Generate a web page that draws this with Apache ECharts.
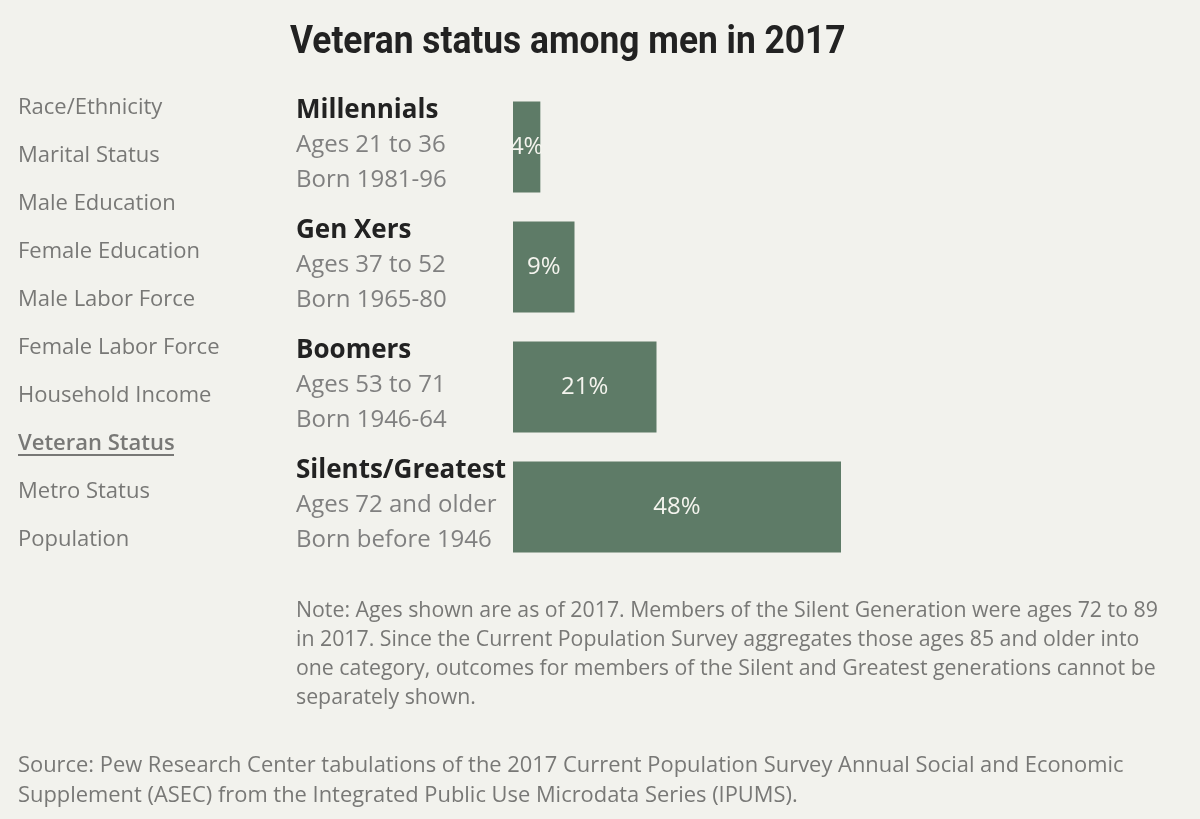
<!DOCTYPE html>
<html>
<head>
<meta charset="utf-8">
<script src="https://cdn.jsdelivr.net/npm/echarts@6/dist/echarts.min.js"></script>
<style>
  html, body { margin: 0; padding: 0; background: #f2f2ed; }
  #main { width: 1200px; height: 819px; }
</style>
</head>
<body>
<div id="main"></div>
<script>
// data
const generations = ['Millennials', 'Gen Xers', 'Boomers', 'Silents/Greatest'];
const ageRanges = ['Ages 21 to 36', 'Ages 37 to 52', 'Ages 53 to 71', 'Ages 72 and older'];
const birthRanges = ['Born 1981-96', 'Born 1965-80', 'Born 1946-64', 'Born before 1946'];
const veteranShares = [4, 9, 21, 48];
const menuItems = ['Race/Ethnicity', 'Marital Status', 'Male Education', 'Female Education',
	'Male Labor Force', 'Female Labor Force', 'Household Income', 'Veteran Status',
	'Metro Status', 'Population'];
const activeMenu = 'Veteran Status';

const noteText = 'Note: Ages shown are as of 2017. Members of the Silent Generation were ages 72 to 89\n' +
	'in 2017. Since the Current Population Survey aggregates those ages 85 and older into\n' +
	'one category, outcomes for members of the Silent and Greatest generations cannot be\n' +
	'separately shown.';
const sourceText = 'Source: Pew Research Center tabulations of the 2017 Current Population Survey Annual Social and Economic\n' +
	'Supplement (ASEC) from the Integrated Public Use Microdata Series (IPUMS).';

const bodyFont = '"Open Sans", Roboto, sans-serif';
const grey = '#787876';

const chart = echarts.init(document.getElementById('main'));

// left side menu
let menuGraphics = [];
menuItems.forEach(function (item, i) {
	let isActive = item == activeMenu;
	menuGraphics.push({
		type: 'text',
		left: 18,
		top: 97 + i * 48,
		style: {
			text: item,
			fill: grey,
			font: (isActive ? '600 ' : '') + '22px ' + bodyFont
		}
	});
	if (isActive) {
		// underline for the selected item
		menuGraphics.push({
			type: 'rect',
			shape: { x: 18, y: 454, width: 156, height: 2 },
			style: { fill: grey }
		});
	}
});

let option = {
	backgroundColor: '#f2f2ed',
	grid: {
		left: 513,
		right: 359,
		top: 87,
		bottom: 252
	},
	xAxis: {
		type: 'value',
		min: 0,
		max: 48,
		show: false
	},
	yAxis: {
		type: 'category',
		inverse: true,
		data: generations,
		axisLine: { show: false },
		axisTick: { show: false },
		axisLabel: {
			align: 'left',
			margin: 217,
			padding: [0, 0, 3, 0],
			formatter: function (value, idx) {
				return '{name|' + value + '}\n{sub|' + ageRanges[idx] + '}\n{sub|' + birthRanges[idx] + '}';
			},
			rich: {
				name: {
					fontFamily: bodyFont,
					fontSize: 26,
					fontWeight: 'bold',
					color: '#222222',
					lineHeight: 35
				},
				sub: {
					fontFamily: bodyFont,
					fontSize: 24,
					color: '#808080',
					lineHeight: 35
				}
			}
		}
	},
	series: [{
		type: 'bar',
		data: veteranShares,
		barCategoryGap: '24%',
		itemStyle: {
			color: '#5e7b67'
		},
		label: {
			show: true,
			position: 'inside',
			formatter: '{c}%',
			color: '#f4f4ee',
			fontFamily: bodyFont,
			fontSize: 24
		}
	}],
	graphic: menuGraphics.concat([
		{
			// title, squeezed to look like a condensed face
			type: 'text',
			x: 290,
			y: 24,
			scaleX: 0.93,
			style: {
				text: 'Veteran status among men in 2017',
				fill: '#222222',
				font: 'bold 38px Roboto, sans-serif'
			}
		},
		{
			type: 'text',
			left: 296,
			top: 596,
			style: {
				text: noteText,
				fill: grey,
				font: '21.3px ' + bodyFont,
				lineHeight: 29
			}
		},
		{
			type: 'text',
			left: 18,
			top: 751,
			style: {
				text: sourceText,
				fill: grey,
				font: '21.9px ' + bodyFont,
				lineHeight: 30
			}
		}
	])
};

chart.setOption(option);
</script>
</body>
</html>
